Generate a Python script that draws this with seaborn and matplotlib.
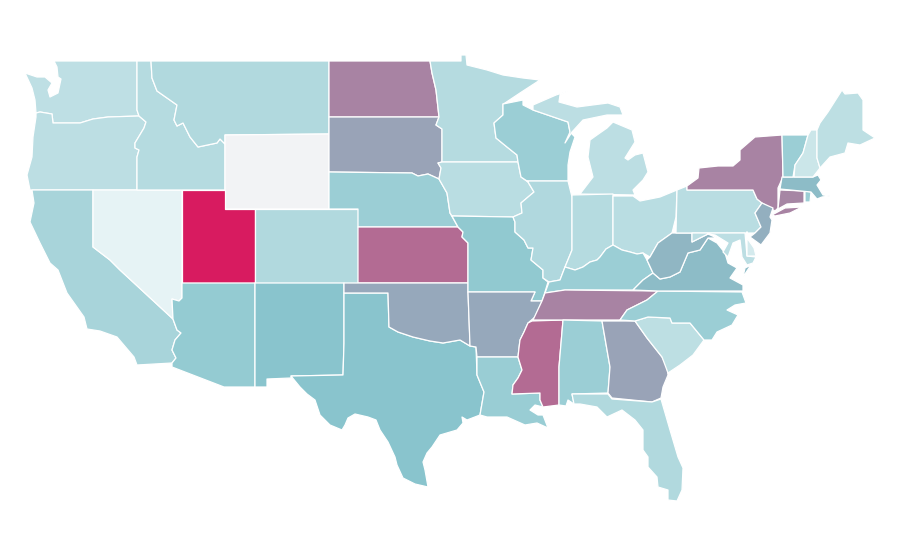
import numpy as np
import pandas as pd
import matplotlib.pyplot as plt
import seaborn as sns

sns.set_theme(style="white")

# Values per state, read off the shading (0 = lightest, 1 = strongest). Wyoming has no data.
states = ["WA", "OR", "CA", "NV", "ID", "MT", "WY", "UT", "CO", "AZ", "NM", "TX", "ND", "SD", "NE", "KS", "OK",
          "MN", "IA", "MO", "AR", "LA", "MS", "WI", "IL", "MI", "IN", "OH", "KY", "TN", "AL", "GA", "FL", "SC",
          "NC", "VA", "WV", "PA", "NY", "NJ", "MD", "DE", "CT", "RI", "MA", "VT", "NH", "ME"]
values = [0.215, 0.225, 0.335, 0.0, 0.265, 0.285, np.nan, 1.0, 0.285, 0.44, 0.5, 0.5, 0.695, 0.60, 0.405, 0.765, 0.585,
          0.265, 0.245, 0.46, 0.585, 0.415, 0.765, 0.405, 0.29, 0.225, 0.265, 0.245, 0.405, 0.695, 0.405, 0.60, 0.285, 0.22,
          0.405, 0.525, 0.545, 0.245, 0.695, 0.565, 0.225, 0.10, 0.685, 0.405, 0.525, 0.405, 0.145, 0.22]

outlines = {
    "WA": [[(54, 61), (137, 61), (137, 110), (139, 116), (108, 117), (93, 119), (80, 123), (65, 123), (53, 123), (52, 114),
            (40, 112), (36, 113), (35, 100), (32, 88), (25, 73), (37, 77), (45, 77), (52, 83), (48, 90), (50, 97), (58, 93),
            (61, 79), (58, 77), (57, 67)]],
    "OR": [[(36, 113), (40, 112), (52, 114), (53, 123), (65, 123), (80, 123), (93, 119), (108, 117), (139, 116), (146, 122),
            (144, 128), (135, 143), (135, 148), (139, 150), (137, 157), (137, 190), (30, 190), (27, 175), (32, 157), (33, 137),
            (36, 117)]],
    "ID": [[(137, 61), (151, 61), (152, 78), (157, 91), (167, 98), (177, 105), (174, 120), (177, 126), (183, 123), (190, 137),
            (198, 147), (217, 143), (220, 139), (225, 144), (225, 190), (137, 190), (137, 157), (139, 150), (135, 148),
            (135, 143), (144, 128), (146, 122), (139, 116), (137, 110)]],
    "MT": [[(151, 61), (329, 61), (329, 134), (225, 135), (225, 144), (220, 139), (217, 143), (198, 147), (190, 137),
            (183, 123), (177, 126), (174, 120), (177, 105), (167, 98), (157, 91), (152, 78)]],
    "WY": [[(225, 135), (329, 134), (329, 209), (225, 209)]],
    "NV": [[(93, 190), (182, 190), (182, 298), (179, 301), (172, 299), (173, 319), (120, 270), (110, 260), (93, 247)]],
    "CA": [[(32, 190), (93, 190), (93, 247), (110, 260), (120, 270), (173, 319), (177, 330), (181, 333), (175, 340),
            (172, 350), (176, 358), (172, 363), (137, 365), (134, 357), (117, 337), (100, 331), (87, 329), (84, 317), (67, 293),
            (58, 270), (50, 263), (40, 243), (30, 222), (34, 203)]],
    "UT": [[(182, 190), (225, 190), (225, 209), (255, 209), (255, 283), (182, 283)]],
    "CO": [[(255, 209), (358, 209), (358, 283), (255, 283)]],
    "AZ": [[(182, 283), (255, 283), (255, 387), (224, 387), (172, 367), (172, 363), (176, 358), (172, 350), (175, 340),
            (181, 333), (177, 330), (173, 319), (172, 299), (179, 301), (182, 298)]],
    "NM": [[(255, 283), (344, 283), (344, 343), (343, 375), (291, 376), (291, 378), (267, 379), (267, 387), (255, 387)]],
    "TX": [[(344, 293), (388, 293), (389, 327), (398, 332), (413, 337), (430, 341), (443, 343), (460, 340), (470, 346),
            (476, 347), (477, 375), (484, 392), (480, 415), (467, 420), (462, 417), (463, 423), (457, 430), (440, 435),
            (432, 447), (427, 453), (423, 462), (425, 470), (428, 487), (415, 484), (403, 478), (397, 465), (395, 457),
            (388, 442), (380, 430), (376, 420), (368, 417), (355, 414), (348, 418), (345, 425), (342, 430), (330, 425),
            (320, 415), (315, 400), (307, 394), (300, 387), (291, 376), (343, 375), (344, 343)]],
    "OK": [[(344, 283), (468, 283), (468, 292), (470, 343), (470, 346), (460, 340), (443, 343), (430, 341), (413, 337),
            (398, 332), (389, 327), (388, 293), (344, 293)]],
    "KS": [[(358, 227), (458, 227), (463, 232), (462, 237), (468, 243), (468, 283), (358, 283)]],
    "NE": [[(329, 172), (412, 173), (418, 176), (428, 174), (439, 179), (447, 193), (450, 213), (458, 227), (358, 227),
            (358, 209), (329, 209)]],
    "SD": [[(329, 117), (439, 117), (436, 125), (442, 129), (442, 162), (438, 163), (441, 168), (439, 179), (428, 174),
            (418, 176), (412, 173), (329, 172)]],
    "ND": [[(329, 61), (430, 61), (432, 73), (436, 90), (439, 117), (329, 117)]],
    "MN": [[(430, 61), (461, 61), (461, 55), (466, 55), (467, 65), (487, 70), (503, 75), (523, 78), (540, 80), (520, 93),
            (505, 103), (503, 104), (503, 115), (494, 123), (496, 138), (507, 147), (517, 155), (518, 162), (442, 162),
            (442, 129), (436, 125), (439, 117), (436, 90), (432, 73)]],
    "IA": [[(442, 162), (518, 162), (521, 177), (528, 182), (534, 192), (521, 203), (522, 213), (513, 217), (452, 216),
            (450, 213), (447, 193), (439, 179), (441, 168), (438, 163)]],
    "MO": [[(452, 216), (513, 217), (515, 222), (515, 232), (524, 240), (528, 248), (533, 248), (531, 260), (543, 270),
            (543, 278), (548, 282), (545, 292), (542, 301), (531, 301), (535, 292), (468, 292), (468, 243), (462, 237),
            (463, 232), (458, 227)]],
    "AR": [[(468, 292), (535, 292), (531, 301), (542, 301), (535, 317), (528, 323), (524, 332), (520, 340), (519, 348),
            (518, 357), (477, 357), (476, 347), (470, 346)]],
    "LA": [[(477, 357), (518, 357), (522, 370), (518, 378), (513, 385), (512, 394), (540, 393), (540, 400), (543, 407),
            (535, 405), (530, 410), (538, 415), (543, 415), (548, 428), (537, 423), (525, 425), (507, 417), (487, 417),
            (480, 415), (484, 392), (477, 375)]],
    "MS": [[(532, 321), (563, 320), (559, 367), (559, 405), (543, 407), (540, 400), (540, 393), (512, 394), (513, 385),
            (518, 378), (522, 370), (518, 357), (519, 348), (520, 340), (524, 332), (528, 323)]],
    "AL": [[(563, 320), (602, 321), (610, 367), (608, 393), (572, 394), (574, 404), (568, 400), (566, 406), (559, 405),
            (559, 367)]],
    "TN": [[(545, 293), (565, 290), (658, 291), (647, 300), (627, 310), (620, 320), (563, 320), (533, 320), (542, 301)]],
    "KY": [[(549, 282), (560, 280), (565, 267), (575, 270), (583, 267), (590, 262), (597, 260), (600, 257), (606, 249),
            (613, 245), (622, 250), (630, 252), (637, 254), (643, 253), (647, 260), (653, 273), (643, 280), (633, 290),
            (565, 290), (545, 293)]],
    "IL": [[(527, 181), (568, 181), (572, 197), (572, 250), (565, 267), (560, 280), (549, 282), (543, 278), (543, 270),
            (531, 260), (533, 248), (528, 248), (524, 240), (515, 232), (515, 222), (513, 217), (522, 213), (521, 203),
            (534, 192), (528, 182)]],
    "IN": [[(572, 195), (613, 194), (613, 245), (606, 249), (600, 257), (597, 260), (590, 262), (583, 267), (575, 270),
            (565, 267), (572, 250)]],
    "OH": [[(613, 196), (633, 196), (640, 201), (660, 197), (677, 190), (676, 217), (672, 233), (658, 243), (650, 257),
            (643, 253), (637, 254), (630, 252), (622, 250), (613, 245)]],
    "MI": [[(580, 194), (635, 195), (633, 190), (643, 180), (648, 172), (643, 153), (635, 155), (628, 160), (625, 158),
            (635, 142), (632, 130), (613, 122), (607, 128), (597, 135), (590, 140), (588, 157), (593, 177)],
           [(533, 110), (568, 122), (570, 132), (565, 143), (572, 132), (583, 120), (607, 115), (623, 115), (620, 107),
            (608, 103), (577, 107), (559, 102), (560, 95), (568, 91), (556, 95), (533, 105)]],
    "WI": [[(503, 104), (523, 100), (523, 105), (533, 110), (568, 122), (570, 132), (575, 137), (570, 152), (568, 165),
            (568, 181), (527, 181), (521, 177), (518, 162), (517, 155), (507, 147), (496, 138), (494, 123), (503, 115)]],
    "PA": [[(677, 190), (687, 186), (687, 190), (753, 190), (757, 199), (762, 203), (755, 213), (761, 227), (755, 233),
            (676, 233)]],
    "NY": [[(687, 190), (687, 186), (698, 178), (699, 168), (718, 166), (733, 166), (740, 160), (740, 150), (755, 137),
            (782, 135), (783, 177), (778, 188), (778, 208), (775, 211), (762, 203), (757, 199), (753, 190)],
           [(772, 215), (785, 208), (802, 207), (790, 213), (775, 216)]],
    "VT": [[(782, 135), (808, 135), (803, 153), (795, 165), (793, 177), (783, 177)]],
    "NH": [[(811, 130), (817, 130), (817, 158), (820, 168), (813, 177), (794, 177), (795, 165), (803, 153), (808, 135)]],
    "ME": [[(817, 130), (820, 123), (828, 112), (842, 90), (845, 94), (858, 93), (863, 100), (863, 130), (875, 138),
            (860, 145), (848, 143), (845, 153), (830, 157), (820, 168), (817, 158)]],
    "MA": [[(782, 177), (813, 177), (818, 175), (821, 180), (817, 185), (823, 195), (830, 196), (822, 197), (817, 199),
            (811, 192), (780, 189)]],
    "RI": [[(805, 191), (811, 192), (810, 202), (805, 202)]],
    "CT": [[(780, 190), (804, 191), (804, 203), (787, 204), (778, 209)]],
    "NJ": [[(762, 203), (773, 208), (770, 217), (772, 220), (770, 233), (761, 245), (750, 237), (755, 233), (761, 227),
            (755, 213)]],
    "DE": [[(747, 232), (747, 256), (756, 256), (754, 248), (747, 238)]],
    "MD": [[(692, 233), (745, 233), (747, 256), (756, 257), (753, 263), (747, 265), (742, 257), (740, 240), (733, 243),
            (728, 257), (723, 252), (728, 243), (715, 235), (708, 234), (692, 242)]],
    "WV": [[(676, 233), (692, 233), (692, 242), (708, 234), (717, 238), (708, 238), (700, 250), (688, 253), (680, 272),
            (670, 277), (660, 279), (653, 273), (647, 260), (650, 257), (658, 243), (672, 233)]],
    "VA": [[(633, 290), (643, 280), (653, 273), (660, 279), (670, 277), (680, 272), (688, 253), (700, 250), (708, 238),
            (717, 243), (725, 253), (728, 263), (737, 268), (730, 278), (743, 285), (743, 291), (658, 291)],
           [(751, 265), (745, 268), (743, 277)]],
    "NC": [[(658, 291), (742, 292), (746, 303), (735, 305), (727, 310), (738, 315), (732, 325), (717, 332), (712, 340),
            (704, 340), (690, 323), (672, 323), (670, 318), (648, 317), (635, 321), (620, 320), (627, 310), (647, 300)]],
    "SC": [[(635, 321), (648, 317), (670, 318), (672, 323), (690, 323), (704, 340), (693, 355), (680, 365), (668, 373),
            (662, 357), (647, 338)]],
    "GA": [[(602, 321), (635, 321), (647, 338), (662, 357), (667, 367), (668, 375), (663, 387), (661, 398), (652, 402),
            (612, 398), (608, 393), (610, 367)]],
    "FL": [[(572, 394), (608, 394), (612, 399), (652, 402), (661, 399), (670, 430), (678, 457), (683, 468), (682, 490),
            (677, 501), (668, 500), (668, 490), (658, 487), (657, 477), (648, 467), (648, 457), (643, 450), (643, 430),
            (635, 420), (622, 410), (607, 417), (597, 407), (580, 404), (574, 404)]],
}

df = pd.DataFrame({"state": states, "value": values})

# light teal -> teal -> magenta
cmap = sns.blend_palette(["#e6f3f5", "#89c5cd", "#d81b60"], as_cmap=True)
cmap.set_bad("#f2f3f5")

fig = plt.figure(figsize=(9, 5.6), dpi=100)
ax = fig.add_axes([0, 0, 1, 1])
for _, row in df.iterrows():
    color = cmap(np.ma.masked_invalid(row["value"]))
    for part in outlines[row["state"]]:
        xs, ys = zip(*part)
        ax.fill(xs, ys, facecolor=color, edgecolor="white", linewidth=0.9, joinstyle="round")
ax.set_xlim(0, 900)
ax.set_ylim(560, 0)
ax.axis("off")
fig.savefig("out.png", dpi=100, facecolor="white")
plt.close(fig)
